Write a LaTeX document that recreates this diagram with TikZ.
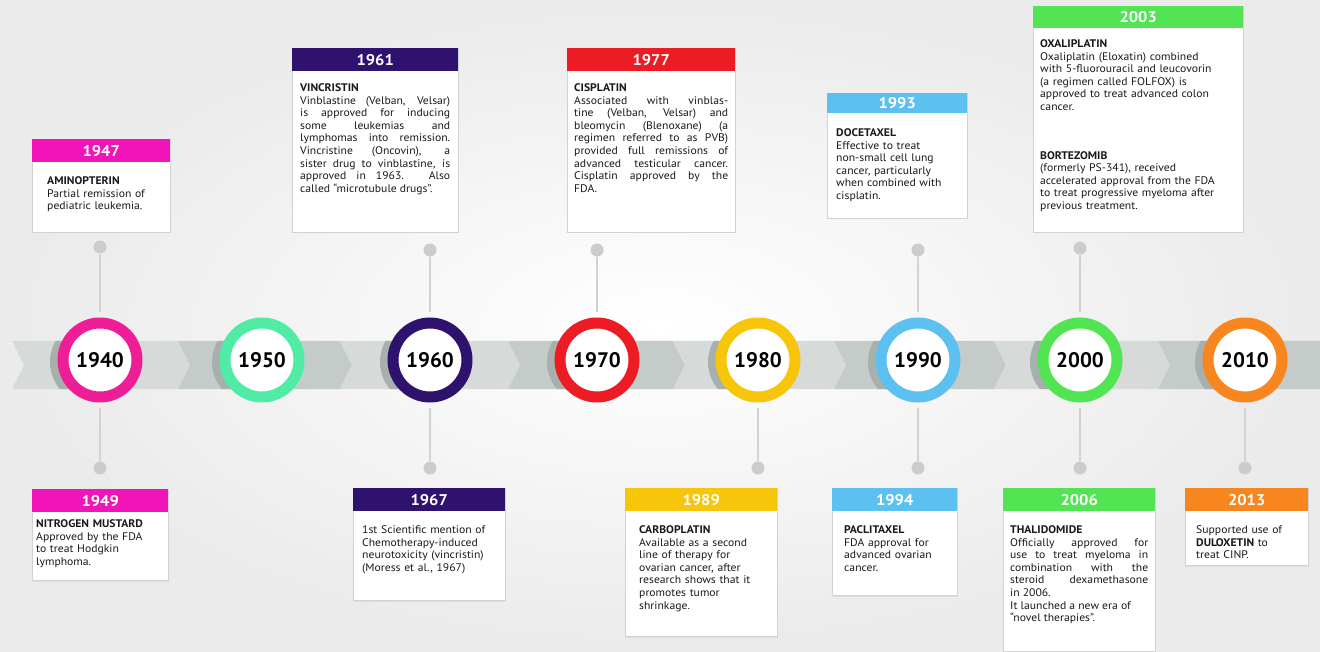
\documentclass[tikz,border=0pt]{standalone}
\usepackage{fontspec}
\setmainfont{PT Sans}
\newfontfamily\notefont[FakeStretch=1.06]{PT Sans}
\usetikzlibrary{positioning,shadows}
\hyphenpenalty=10000

\definecolor{magRing}{RGB}{238,30,150}
\definecolor{magHead}{RGB}{240,20,185}
\definecolor{aquaRing}{RGB}{80,235,165}
\definecolor{indigo}{RGB}{46,18,110}
\definecolor{redOne}{RGB}{237,28,36}
\definecolor{yellowOne}{RGB}{247,198,10}
\definecolor{skyOne}{RGB}{92,192,240}
\definecolor{greenOne}{RGB}{82,228,82}
\definecolor{orangeOne}{RGB}{247,134,30}
\definecolor{bandA}{RGB}{214,219,218}
\definecolor{bandB}{RGB}{196,203,201}
\definecolor{bandShade}{RGB}{168,176,174}

\begin{document}
\begin{tikzpicture}[x=1pt,y=-1pt,
  ring/.style={circle,draw=#1,line width=11pt,fill=white,minimum size=74pt,inner sep=0pt,font=\bfseries\fontsize{21}{21}\selectfont},
  yearhead/.style={fill=#1,anchor=north west,inner sep=0pt,minimum height=23pt,text=white,font=\notefont\bfseries\fontsize{15.5}{15.5}\selectfont},
  note/.style={anchor=north west,inner xsep=8pt,inner ysep=14pt,text=black!90,font=\notefont\fontsize{11}{12.6}\selectfont},
  frame/.style={draw=gray!35,fill=white,line width=0.8pt,drop shadow={opacity=0.12,shadow xshift=1pt,shadow yshift=-1.5pt}},
  knob/.style={circle,fill=gray!40,minimum size=13pt,inner sep=0pt},
  linkline/.style={gray!35,line width=2pt,shorten >=5pt}]
  \useasboundingbox (0,0) rectangle (1320,652);
  \shade[inner color=white,outer color=gray!16] (0,0) rectangle (1320,652);

  \foreach \l/\r/\c in {24/190/bandA,190/352/bandB,352/520/bandA,520/685/bandB,685/846/bandA,846/1006/bandB,1006/1170/bandA}
    \fill[\c] (\l-12,341) -- (\r-12,341) -- (\r,365) -- (\r-12,389) -- (\l-12,389) -- (\l,365) -- cycle;
  \fill[bandB] (1158,341) -- (1320,341) -- (1320,389) -- (1158,389) -- (1170,365) -- cycle;
  \begin{scope}
    \clip (12,341) -- (1320,341) -- (1320,389) -- (12,389) -- (24,365) -- cycle;
    \foreach \x in {100,262,430,597,758,918,1080,1245}
      \fill[bandShade] (\x-8,362) circle (42pt);
  \end{scope}

  \node[ring=magRing] (c1940) at (100,360) {1940};
  \node[ring=aquaRing] (c1950) at (262,360) {1950};
  \node[ring=indigo] (c1960) at (430,360) {1960};
  \node[ring=redOne] (c1970) at (597,360) {1970};
  \node[ring=yellowOne] (c1980) at (758,360) {1980};
  \node[ring=skyOne] (c1990) at (918,360) {1990};
  \node[ring=greenOne] (c2000) at (1080,360) {2000};
  \node[ring=orangeOne] (c2010) at (1245,360) {2010};

  \node[knob] (k47) at (100,247) {};
  \node[knob] (k61) at (430,250) {};
  \node[knob] (k77) at (597,250) {};
  \node[knob] (k93) at (918,250) {};
  \node[knob] (k03) at (1080,248) {};
  \node[knob] (k49) at (100,468) {};
  \node[knob] (k67) at (430,468) {};
  \node[knob] (k89) at (758,468) {};
  \node[knob] (k94) at (918,468) {};
  \node[knob] (k06) at (1080,468) {};
  \node[knob] (k13) at (1245,468) {};
  \draw[linkline] (k47) -- (c1940);
  \draw[linkline] (k61) -- (c1960);
  \draw[linkline] (k77) -- (c1970);
  \draw[linkline] (k93) -- (c1990);
  \draw[linkline] (k03) -- (c2000);
  \draw[linkline] (k49) -- (c1940);
  \draw[linkline] (k67) -- (c1960);
  \draw[linkline] (k89) -- (c1980);
  \draw[linkline] (k94) -- (c1990);
  \draw[linkline] (k06) -- (c2000);
  \draw[linkline] (k13) -- (c2010);

  % upper notes
  \path[frame] (32,139) rectangle (170,232);
  \node[yearhead=magHead,minimum width=138pt] (h47) at (32,139) {1947};
  \node[note,inner xsep=15pt,text width=112pt,align=left] (t47) at (h47.south west) {\textbf{AMINOPTERIN}\\Partial remission of\\pediatric leukemia.};

  \path[frame] (292,48) rectangle (458,232);
  \node[yearhead=indigo,minimum width=166pt] (h61) at (292,48) {1961};
  \node[note,inner ysep=12pt,text width=150pt,align=justify] (t61) at (h61.south west) {\textbf{VINCRISTIN}\linebreak Vinblastine (Velban, Velsar)\linebreak is approved for inducing\linebreak some leukemias and\linebreak lymphomas into remission.\linebreak Vincristine (Oncovin), a\linebreak sister drug to vinblastine, is\linebreak approved in 1963. Also\linebreak called “microtubule drugs”.};

  \path[frame] (567,48) rectangle (735,232);
  \node[yearhead=redOne,minimum width=168pt] (h77) at (567,48) {1977};
  \node[note,inner xsep=7pt,inner ysep=12pt,text width=154pt,align=justify] (t77) at (h77.south west) {\textbf{CISPLATIN}\linebreak Associated with vinblas-\linebreak tine (Velban, Velsar) and\linebreak bleomycin (Blenoxane) (a\linebreak regimen referred to as PVB)\linebreak provided full remissions of\linebreak advanced testicular cancer.\linebreak Cisplatin approved by the\linebreak FDA.};

  \path[frame] (827,93) rectangle (967,218);
  \node[yearhead=skyOne,minimum width=140pt,minimum height=20pt] (h93) at (827,93) {1993};
  \node[note,inner xsep=9pt,inner ysep=15pt,text width=126pt,align=left] (t93) at (h93.south west) {\textbf{DOCETAXEL}\\Effective to treat\\non-small cell lung\\cancer, particularly\\when combined with\\cisplatin.};

  \path[frame] (1033,6) rectangle (1243,232);
  \node[yearhead=greenOne,minimum width=210pt,minimum height=22pt] (h03) at (1033,6) {2003};
  \node[note,inner xsep=7pt,inner ysep=11pt,text width=200pt,align=left] (t03) at (h03.south west) {\textbf{OXALIPLATIN}\\Oxaliplatin (Eloxatin) combined\\with 5-fluorouracil and leucovorin\\(a regimen called FOLFOX) is\\approved to treat advanced colon\\cancer.\\[36pt]\textbf{BORTEZOMIB}\\(formerly PS-341), received\\accelerated approval from the FDA\\to treat progressive myeloma after\\previous treatment.};

  % lower notes
  \path[frame] (32,489) rectangle (168,580);
  \node[yearhead=magHead,minimum width=136pt] (h49) at (32,489) {1949};
  \node[note,inner xsep=4pt,inner ysep=7pt,text width=130pt,align=left] (t49) at (h49.south west) {\textbf{NITROGEN MUSTARD}\\Approved by the FDA\\to treat Hodgkin\\lymphoma.};

  \path[frame] (353,488) rectangle (505,600);
  \node[yearhead=indigo,minimum width=152pt] (h67) at (353,488) {1967};
  \node[note,inner xsep=9pt,text width=138pt,align=left] (t67) at (h67.south west) {1st Scientific mention of\\Chemotherapy-induced\\neurotoxicity (vincristin)\\(Moress et al., 1967)};

  \path[frame] (625,488) rectangle (777,636);
  \node[yearhead=yellowOne,minimum width=152pt] (h89) at (625,488) {1989};
  \node[note,inner xsep=14pt,text width=136pt,align=left] (t89) at (h89.south west) {\textbf{CARBOPLATIN}\\Available as a second\\line of therapy for\\ovarian cancer, after\\research shows that it\\promotes tumor\\shrinkage.};

  \path[frame] (832,488) rectangle (957,595);
  \node[yearhead=skyOne,minimum width=125pt] (h94) at (832,488) {1994};
  \node[note,inner xsep=12pt,text width=112pt,align=left] (t94) at (h94.south west) {\textbf{PACLITAXEL}\\FDA approval for\\advanced ovarian\\cancer.};

  \path[frame] (1003,488) rectangle (1155,651);
  \node[yearhead=greenOne,minimum width=152pt] (h06) at (1003,488) {2006};
  \node[note,inner xsep=7pt,text width=138pt,align=justify] (t06) at (h06.south west) {\textbf{THALIDOMIDE}\linebreak Officially approved for\linebreak use to treat myeloma in\linebreak combination with the\linebreak steroid dexamethasone\linebreak in 2006.\newline It launched a new era of\newline “novel therapies”.};

  \path[frame] (1185,488) rectangle (1308,565);
  \node[yearhead=orangeOne,minimum width=123pt] (h13) at (1185,488) {2013};
  \node[note,inner xsep=11pt,text width=112pt,align=left] (t13) at (h13.south west) {Supported use of\\\textbf{DULOXETIN} to\\treat CINP.};
\end{tikzpicture}
\end{document}
